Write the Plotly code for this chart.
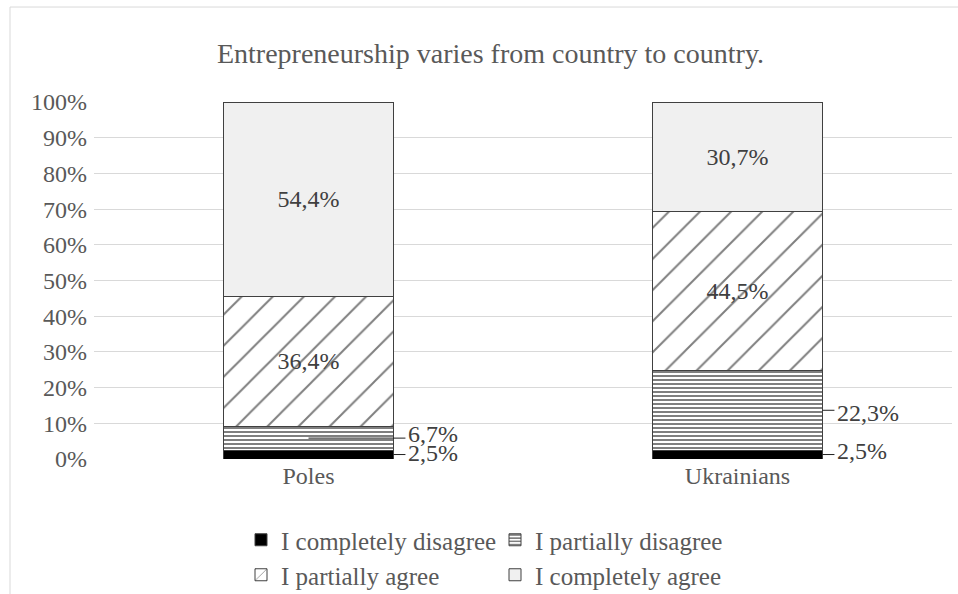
import plotly.graph_objects as go

# Survey answers: "Entrepreneurship varies from country to country."
groups = ["Poles", "Ukrainians"]
answers = ["I completely disagree", "I partially disagree",
           "I partially agree", "I completely agree"]
completely_disagree = [2.5, 2.5]
partially_disagree = [6.7, 22.3]
partially_agree = [36.4, 44.5]
completely_agree = [54.4, 30.7]
y_ticks = [0, 10, 20, 30, 40, 50, 60, 70, 80, 90, 100]

series = [completely_disagree, partially_disagree, partially_agree, completely_agree]

SERIF = "Liberation Serif"
TEXT = "#595959"
LABEL = "#404040"
BAR_W = 0.396


def pct(v):
    return f"{v:.1f}".replace(".", ",") + "%"


styles = [
    dict(color="#000000"),
    dict(color="#ffffff", pattern=dict(shape="-", fgcolor="#000000", bgcolor="#ffffff",
                                       size=4, solidity=0.5)),
    dict(color="#ffffff", pattern=dict(shape="/", fgcolor="#000000", bgcolor="#ffffff",
                                       size=22, solidity=0.09)),
    dict(color="#f0f0f0"),
]
legend_of = ["legend", "legend", "legend2", "legend2"]

fig = go.Figure()
for i, (name, vals, st) in enumerate(zip(answers, series, styles)):
    big = i >= 2  # the two large segments carry their label inside
    fig.add_trace(go.Bar(
        x=groups, y=vals, name=name, width=BAR_W,
        marker=dict(**st, line=dict(color=LABEL, width=1)),
        text=[pct(v) for v in vals] if big else None,
        textposition="inside" if big else "none",
        insidetextanchor="middle",
        textangle=0,
        constraintext="none",
        textfont=dict(family=SERIF, size=24, color=LABEL),
        legend=legend_of[i],
        hoverinfo="skip",
    ))

# Small segments: labels placed to the right of the bars with leader lines
shapes = []
annotations = []
outside = [  # (group index, series index, leader start, y shift)
    (0, 1, 0.0, 4),
    (0, 0, BAR_W / 2, 2),
    (1, 1, BAR_W / 2, -3),
    (1, 0, BAR_W / 2, 4),
]
for g, s, x_start, dy in outside:
    base = sum(series[k][g] for k in range(s))
    mid = base + series[s][g] / 2
    x_end = g + 0.226
    shapes.append(dict(type="line", xref="x", yref="y", x0=g + x_start, x1=x_end,
                       y0=mid, y1=mid, line=dict(color="#202020", width=1), layer="above"))
    annotations.append(dict(x=x_end, y=mid, xref="x", yref="y", text=pct(series[s][g]),
                            showarrow=False, xanchor="left", yanchor="middle",
                            xshift=1, yshift=dy,
                            font=dict(family=SERIF, size=24, color=LABEL)))

# Outer chart frame
shapes.append(dict(type="rect", xref="paper", yref="paper",
                   x0=-0.0979, x1=1.03, y0=-0.6, y1=1.266,
                   line=dict(color="#d9d9d9", width=1), layer="below"))

legend_common = dict(orientation="h", xref="container", yref="container",
                     xanchor="left", yanchor="top", entrywidth=209, entrywidthmode="pixels",
                     traceorder="normal",
                     font=dict(family=SERIF, size=25, color=TEXT),
                     bgcolor="rgba(0,0,0,0)", itemclick=False, itemdoubleclick=False)

fig.update_layout(
    width=958, height=594,
    margin=dict(l=94, r=6, t=102, b=135),
    paper_bgcolor="#ffffff", plot_bgcolor="#ffffff",
    barmode="stack",
    separators=", ",
    title=dict(text="Entrepreneurship varies from country to country.",
               xref="container", x=490.5 / 958, xanchor="center",
               y=1 - 53 / 594, yanchor="middle",
               font=dict(family=SERIF, size=28, color=TEXT)),
    xaxis=dict(type="category", range=[-0.5, 1.5], showgrid=False, zeroline=False,
               showline=False, ticks="", tickfont=dict(family=SERIF, size=24, color=TEXT)),
    yaxis=dict(range=[0, 100], tickvals=y_ticks, ticktext=[f"{t}%" for t in y_ticks],
               showgrid=True, gridcolor="#d9d9d9", gridwidth=1, zeroline=False,
               showline=False, ticks="", ticklabelstandoff=6,
               tickfont=dict(family=SERIF, size=24, color=TEXT)),
    legend=dict(**legend_common, x=241 / 958, y=1 - 517 / 594),
    legend2=dict(**legend_common, x=241 / 958, y=1 - 552 / 594),
    shapes=shapes,
    annotations=annotations,
    showlegend=True,
)

fig.write_html("out.html")
